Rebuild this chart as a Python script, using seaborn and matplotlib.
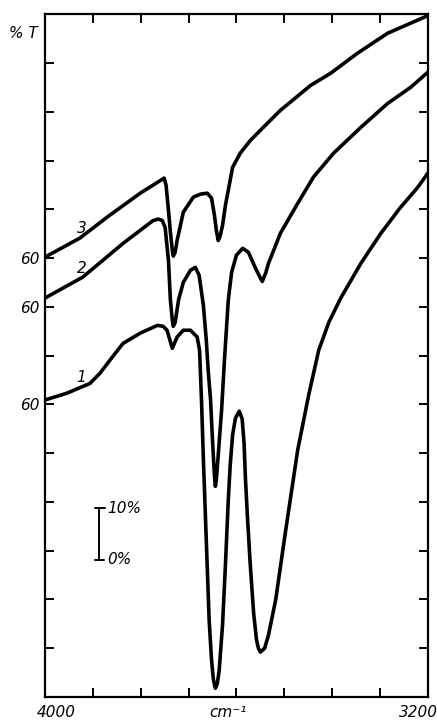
import numpy as np
import pandas as pd
import matplotlib
matplotlib.use("Agg")
import matplotlib.pyplot as plt
import seaborn as sns

# IR traces: wavenumber (cm-1) and %T of each curve
wn1 = [4000, 3954, 3906, 3885, 3864, 3837, 3801, 3765, 3753, 3745, 3734, 3724, 3711,
       3696, 3682, 3677, 3673, 3669, 3663, 3657, 3652, 3648, 3644, 3640, 3636,
       3629, 3623, 3617, 3613, 3608, 3602, 3594, 3588, 3584, 3581, 3577, 3571,
       3564, 3558, 3554, 3550, 3541, 3533, 3518, 3497, 3472, 3449, 3428, 3407, 3382,
       3340, 3298, 3257, 3221, 3200]
t1 = [60.9, 62.3, 64.3, 66.4, 69.1, 72.5, 74.6, 76.2, 76.0, 75.2, 71.5, 73.8, 75.2,
      75.2, 73.8, 71.1, 60.9, 48.6, 32.2, 15.8, 7.6, 3.5, 1.8, 2.7, 5.5,
      14.8, 27.0, 40.4, 47.5, 53.7, 57.2, 58.6, 57.0, 52.0, 44.5, 37.0, 27.0,
      17.2, 11.7, 10.0, 9.2, 10.0, 12.7, 19.9, 34.2, 50.6, 61.9, 71.1, 76.8, 81.8,
      88.9, 95.1, 100.4, 104.5, 107.4]

wn2 = [4000, 3921, 3837, 3774, 3763, 3755, 3749, 3742, 3738, 3734, 3732, 3728,
       3721, 3711, 3696, 3686, 3678, 3669, 3663, 3659, 3654, 3650, 3646, 3644,
       3642, 3638, 3631, 3625, 3617, 3610, 3600, 3587, 3575, 3560, 3552, 3546,
       3539, 3533, 3508, 3472, 3439, 3397, 3340, 3284, 3236, 3200]
t2 = [61.8, 66.1, 73.0, 77.7, 78.0, 77.7, 76.3, 69.5, 61.4, 57.3, 56.0, 56.8,
      61.4, 65.0, 67.5, 68.1, 66.5, 60.3, 53.2, 47.0, 40.9, 32.7, 25.5, 23.2,
      24.5, 29.6, 38.8, 49.1, 61.4, 67.1, 70.6, 72.0, 71.2, 67.9, 66.3, 65.2,
      66.9, 68.9, 75.1, 81.2, 86.6, 91.5, 96.8, 101.7, 105.0, 108.1]

wn3 = [4000, 3927, 3870, 3801, 3759, 3751, 3747, 3742, 3738, 3734, 3732, 3728,
       3724, 3711, 3690, 3675, 3661, 3652, 3646, 3642, 3638, 3634, 3629, 3623,
       3617, 3608, 3592, 3571, 3550, 3508, 3445, 3403, 3347, 3284, 3242, 3200]
t3 = [60.2, 64.1, 68.4, 73.3, 75.9, 76.4, 74.9, 69.8, 65.3, 61.6, 60.4, 61.2,
      63.6, 69.4, 72.5, 73.1, 73.3, 72.3, 68.8, 65.7, 63.6, 64.5, 66.7, 70.8,
      73.9, 78.6, 81.5, 84.1, 86.2, 90.3, 95.4, 97.9, 102.0, 106.1, 107.9, 109.7]

curve_names = ["1", "2", "3"]
offsets = [0, 20, 30]          # traces are shifted up on the chart paper
label_wn = [3925, 3923, 3923]   # where the curve numbers sit
label_t = [65.6, 67.9, 66.1]

sns.set_style("ticks")
plt.rcParams["font.family"] = ["DejaVu Sans"]
plt.rcParams["text.color"] = "black"
plt.rcParams["xtick.color"] = "black"
plt.rcParams["ytick.color"] = "black"

frames = []
for name, wn, t, off in zip(curve_names, [wn1, wn2, wn3], [t1, t2, t3], offsets):
    frames.append(pd.DataFrame({"wn": wn, "T": np.array(t) + off, "curve": name}))
df = pd.concat(frames, ignore_index=True)

fig = plt.figure(figsize=(4.37, 7.21), dpi=100)
ax = fig.add_axes([0.103, 0.0333, 0.876, 0.947])

sns.lineplot(data=df, x="wn", y="T", hue="curve", units="curve", estimator=None,
             palette=["black"] * 3, linewidth=2.6, legend=False, ax=ax, sort=False)

ax.set_xlim(4000, 3200)
ax.set_ylim(0, 140)
ax.set_xlabel("")
ax.set_ylabel("")

ax.set_xticks(np.arange(3200, 4001, 100))
ax.set_xticklabels([])
ax.set_yticks(np.arange(0, 141, 10))
ylabels = ["" for _ in range(15)]
for off in offsets:
    ylabels[(60 + off) // 10] = "60"
ax.set_yticklabels(ylabels, fontsize=11, style="italic")
ax.tick_params(axis="both", direction="in", length=6.5, width=1.4,
               top=True, right=True, pad=4, colors="black")
for s in ax.spines.values():
    s.set_linewidth(1.6)
    s.set_color("black")

# bottom labels
ax.text(3977, -0.022, "4000", transform=ax.get_xaxis_transform(),
        ha="center", va="center", fontsize=11, style="italic")
ax.text(3219, -0.022, "3200", transform=ax.get_xaxis_transform(),
        ha="center", va="center", fontsize=11, style="italic")
ax.text(3617, -0.022, "cm⁻¹", transform=ax.get_xaxis_transform(),
        ha="center", va="center", fontsize=11, style="italic")
fig.text(0.054, 0.954, "% T", ha="center", va="center", fontsize=11, style="italic")

# curve numbers
for name, x, t, off in zip(curve_names, label_wn, label_t, offsets):
    ax.text(x, t + off, name, ha="center", va="center", fontsize=11, style="italic")

# 10 % scale bar
bar_lo, bar_hi = 28.1, 38.7
ax.plot([3887, 3887], [bar_lo, bar_hi], color="black", linewidth=1.4)
ax.plot([3895, 3875], [bar_hi, bar_hi], color="black", linewidth=1.4)
ax.plot([3895, 3877], [bar_lo, bar_lo], color="black", linewidth=1.4)
ax.text(3870, bar_hi, "10%", ha="left", va="center", fontsize=11, style="italic")
ax.text(3870, bar_lo, "0%", ha="left", va="center", fontsize=11, style="italic")

fig.savefig("out.png", dpi=100)
